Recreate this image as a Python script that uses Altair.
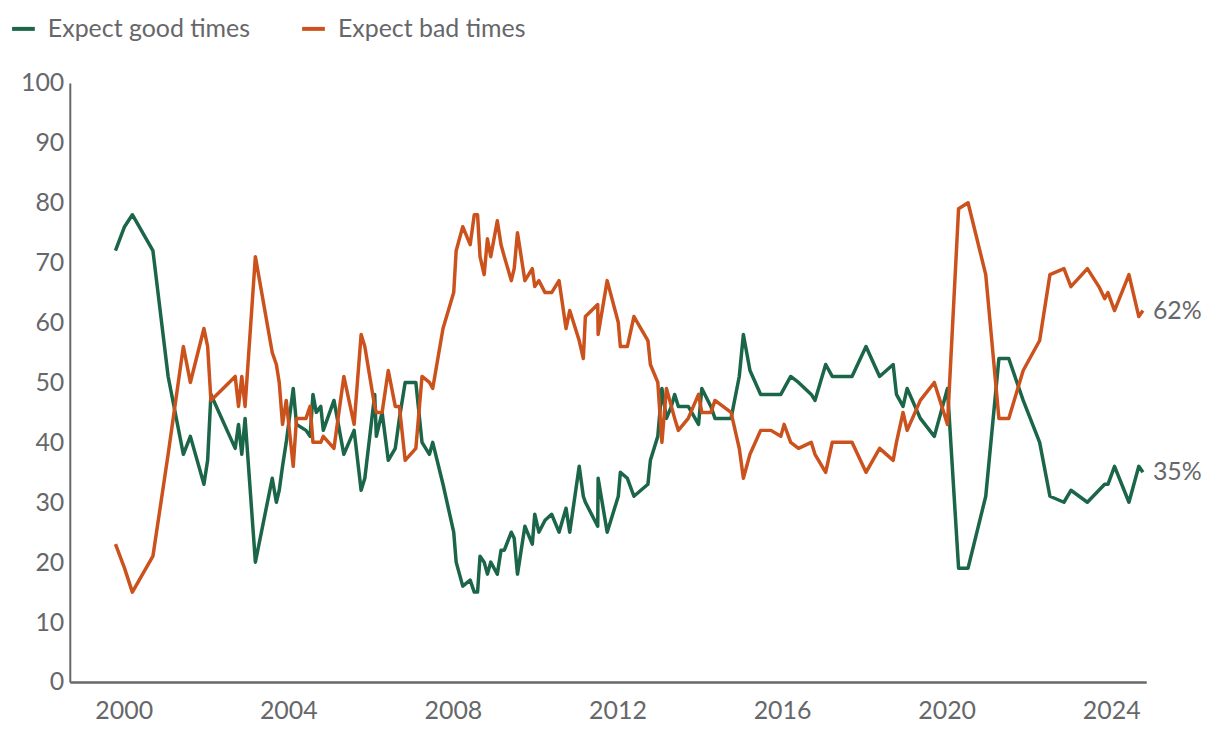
import altair as alt
import pandas as pd

# Survey dates (decimal years) and shares (%)
years = [1999.80, 2000.02, 2000.21, 2000.71, 2001.08, 2001.45, 2001.62, 2001.95, 2002.04, 2002.12,
         2002.71, 2002.79, 2002.87, 2002.95, 2003.20, 2003.61, 2003.71, 2003.78, 2003.86, 2003.95,
         2004.12, 2004.20, 2004.43, 2004.53, 2004.60, 2004.68, 2004.79, 2004.85, 2005.11, 2005.35,
         2005.60, 2005.77, 2005.86, 2006.10, 2006.14, 2006.28, 2006.43, 2006.60, 2006.70, 2006.84,
         2007.10, 2007.25, 2007.43, 2007.51, 2007.76, 2008.02, 2008.08, 2008.24, 2008.42, 2008.52,
         2008.60, 2008.66, 2008.76, 2008.84, 2008.92, 2009.08, 2009.17, 2009.25, 2009.42, 2009.49,
         2009.57, 2009.75, 2009.93, 2009.99, 2010.09, 2010.24, 2010.40, 2010.58, 2010.75, 2010.84,
         2011.07, 2011.17, 2011.22, 2011.52, 2011.53, 2011.75, 2012.02, 2012.07, 2012.24, 2012.40,
         2012.74, 2012.80, 2012.98, 2013.08, 2013.19, 2013.31, 2013.39, 2013.48, 2013.72, 2013.97,
         2014.05, 2014.27, 2014.37, 2014.76, 2014.96, 2015.06, 2015.22, 2015.48, 2015.73, 2015.97,
         2016.05, 2016.21, 2016.40, 2016.71, 2016.80, 2017.06, 2017.22, 2017.70, 2018.04, 2018.37,
         2018.70, 2018.78, 2018.94, 2019.04, 2019.36, 2019.70, 2020.02, 2020.29, 2020.52, 2020.95,
         2021.27, 2021.51, 2021.86, 2022.26, 2022.51, 2022.85, 2023.02, 2023.42, 2023.70, 2023.84,
         2023.92, 2024.08, 2024.43, 2024.67, 2024.77]

good = [72, 76, 78, 72, 51, 38, 41, 33, 37, 48,
        39, 43, 38, 44, 20, 34, 30, 32, 36, 40,
        49, 43, 42, 41, 48, 45, 46, 42, 47, 38,
        42, 32, 34, 48, 41, 45, 37, 39, 44, 50,
        50, 40, 38, 40, 33, 25, 20, 16, 17, 15,
        15, 21, 20, 18, 20, 18, 22, 22, 25, 24,
        18, 26, 23, 28, 25, 27, 28, 25, 29, 25,
        36, 31, 30, 26, 34, 25, 31, 35, 34, 31,
        33, 37, 41, 49, 44, 46, 48, 46, 46, 43,
        49, 46, 44, 44, 51, 58, 52, 48, 48, 48,
        49, 51, 50, 48, 47, 53, 51, 51, 56, 51,
        53, 48, 46, 49, 44, 41, 49, 19, 19, 31,
        54, 54, 47, 40, 31, 30, 32, 30, 32, 33,
        33, 36, 30, 36, 35]

bad = [23, 19, 15, 21, 38, 56, 50, 59, 56, 47,
       51, 46, 51, 46, 71, 55, 53, 50, 43, 47,
       36, 44, 44, 46, 40, 40, 40, 41, 39, 51,
       43, 58, 56, 46, 45, 45, 52, 46, 46, 37,
       39, 51, 50, 49, 59, 65, 72, 76, 73, 78,
       78, 71, 68, 74, 71, 77, 73, 71, 67, 69,
       75, 67, 69, 66, 67, 65, 65, 67, 59, 62,
       57, 54, 61, 63, 58, 67, 60, 56, 56, 61,
       57, 53, 50, 40, 49, 46, 44, 42, 44, 48,
       45, 45, 47, 45, 39, 34, 38, 42, 42, 41,
       43, 40, 39, 40, 38, 35, 40, 40, 35, 39,
       37, 40, 45, 42, 47, 50, 43, 79, 80, 68,
       44, 44, 52, 57, 68, 69, 66, 69, 66, 64,
       65, 62, 68, 61, 62]

series_names = ["Expect good times", "Expect bad times"]
series_colors = ["#1b6548", "#cb521d"]
x_ticks = [2000, 2004, 2008, 2012, 2016, 2020, 2024]
y_ticks = [0, 10, 20, 30, 40, 50, 60, 70, 80, 90, 100]

rows = []
for y, g, b in zip(years, good, bad):
    rows.append({"year": y, "value": g, "series": series_names[0]})
    rows.append({"year": y, "value": b, "series": series_names[1]})
df = pd.DataFrame(rows)

end_df = pd.DataFrame({
    "year": [years[-1], years[-1]],
    "value": [good[-1], bad[-1]],
    "label": [f"{good[-1]}%", f"{bad[-1]}%"],
})

FONT = "Lato"
FS = 25
GRAY = "#66676a"

x_enc = alt.X("year:Q",
              scale=alt.Scale(domain=[1998.69, 2024.85], nice=False, zero=False),
              axis=alt.Axis(values=x_ticks, format="d", title=None, grid=False, ticks=False,
                            labelPadding=17, labelFontSize=FS, labelColor=GRAY, labelFont=FONT,
                            domainColor=GRAY, domainWidth=2.5, labelFlush=False))
y_enc = alt.Y("value:Q",
              scale=alt.Scale(domain=[0, 100], nice=False),
              axis=alt.Axis(values=y_ticks, title=None, grid=False, ticks=False,
                            labelPadding=6, labelFontSize=FS, labelColor=GRAY, labelFont=FONT,
                            domainColor=GRAY, domainWidth=2, labelFlush=False))

lines = alt.Chart(df).mark_line(strokeWidth=3.5, strokeJoin="round").encode(
    x=x_enc,
    y=y_enc,
    color=alt.Color("series:N",
                    scale=alt.Scale(domain=series_names, range=series_colors),
                    sort=series_names,
                    legend=alt.Legend(title=None, orient="none", legendX=-60, legendY=-68,
                                      direction="horizontal", symbolType="stroke",
                                      symbolStrokeWidth=4, symbolSize=520,
                                      labelFontSize=FS, labelColor=GRAY, labelFont=FONT,
                                      labelLimit=0, columnPadding=44, labelOffset=11)),
    detail="series:N",
)

labels = alt.Chart(end_df).mark_text(align="left", baseline="middle", dx=10, fontSize=FS,
                                      font=FONT, color=GRAY).encode(
    x="year:Q", y="value:Q", text="label:N")

chart = alt.layer(lines, labels).properties(
    width=1080, height=601,
    autosize=alt.AutoSizeParams(type="none"),
    padding={"left": 62, "top": 74, "right": 66, "bottom": 45},
).configure_view(stroke=None)

chart.save("out.html", embed_options={"renderer": "svg", "actions": False})
